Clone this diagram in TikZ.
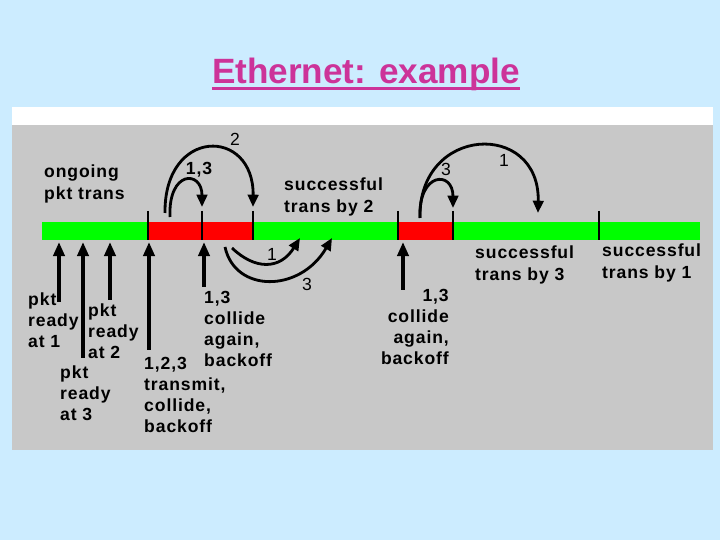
\documentclass[tikz,border=0pt]{standalone}
\usepackage{fontspec}
\setmainfont{Liberation Sans}
\newfontfamily\lblfont[LetterSpace=5]{Liberation Sans}
\usetikzlibrary{arrows.meta}
\definecolor{bgblue}{RGB}{204,236,255}
\definecolor{panel}{RGB}{200,200,200}
\definecolor{busgreen}{RGB}{0,255,0}
\definecolor{busred}{RGB}{255,0,0}
\definecolor{titlepink}{RGB}{204,51,153}
\tikzset{
  lbl/.style={anchor=west,align=left,inner sep=0pt,font=\lblfont\bfseries\fontsize{15}{18}\selectfont},
  num/.style={inner sep=0pt,font=\lblfont\fontsize{15}{17}\selectfont},
  tickmark/.style={line width=1.6pt},
  uparrow/.style={line width=3pt,-{Triangle[length=12pt,width=9.5pt]}},
  backarc/.style={line width=2.4pt,-{Triangle[length=10.5pt,width=9pt]}}
}
\begin{document}
\begin{tikzpicture}[x=0.03cm,y=-0.03cm]
\useasboundingbox (0,0) rectangle (720,540);
% 背景
\fill[bgblue] (0,0) rectangle (720,540);
\fill[white] (12,107) rectangle (713,125);
\fill[panel] (12,125) rectangle (713,450);
% 标题
\node[inner sep=0pt,anchor=base,text=titlepink,font=\bfseries\fontsize{30}{34}\selectfont] (title) at (366,84) {Ethernet: example};
\draw[titlepink,line width=2.5pt] ([yshift=-4pt]title.base west) -- ([yshift=-4pt]title.base east);
% 总线
\fill[busgreen] (42,222) rectangle (700,240);
\fill[busred] (149,222) rectangle (253,240);
\fill[busred] (398,222) rectangle (453,240);
\foreach \x in {148,202,253,398,453,599}
  \draw[tickmark] (\x,211) -- (\x,240);
% 上箭头
\foreach \x/\y/\name in {59/302/a,83/358/b,110/300/c,149/350/d,204/287/e,403/290/f} {
  \coordinate (\name tail) at (\x,\y);
  \coordinate (\name tip) at (\x,242);
  \draw[uparrow] (\name tail) -- (\name tip);
}
% 文字
\node[lbl] (ongoing) at (44,184) {ongoing\\pkt trans};
\node[lbl] (succ2) at (284,197) {successful\\trans by 2};
\node[lbl] (succ3) at (475,265) {successful\\trans by 3};
\node[lbl] (succ1) at (602,263) {successful\\trans by 1};
\node[lbl] (ready1) at (28,320) {pkt\\ready\\at 1};
\node[lbl] (ready2) at (88,331) {pkt\\ready\\at 2};
\node[lbl] (ready3) at (60,393) {pkt\\ready\\at 3};
\node[lbl] (first) at (144,395) {1,2,3\\transmit,\\collide,\\backoff};
\node[lbl] (again1) at (204,329) {1,3\\collide\\again,\\backoff};
\node[lbl,anchor=east,align=right] (again2) at (449,327) {1,3\\collide\\again,\\backoff};
% 退避弧线（上方）
\coordinate (s2) at (165,213); \coordinate (t2) at (253,207);
\draw[backarc] (s2) .. controls (164,127) and (254,127) .. (t2);
\node[num] (n2) at (235,139) {2};
\coordinate (s13) at (170,217); \coordinate (t13) at (202,207);
\draw[backarc] (s13) .. controls (168,170) and (202,170) .. (t13);
\node[num,font=\lblfont\bfseries\fontsize{15}{17}\selectfont] (n13) at (199,170) {1,3};
\coordinate (s3) at (420,218); \coordinate (t3) at (453,208);
\draw[backarc] (s3) .. controls (418,172) and (453,170) .. (t3);
\node[num] (n3) at (446,169) {3};
\coordinate (t1) at (538,213);
\draw[backarc] (s3) .. controls (418,125) and (540,120) .. (t1);
\node[num] (n1) at (504,160) {1};
% 退避弧线（下方）
\coordinate (b1s) at (232,248); \coordinate (b1t) at (300,238);
\draw[backarc] (b1s) .. controls (255,270) and (280,270) .. (b1t);
\node[num] (m1) at (272,254) {1};
\coordinate (b3s) at (225,247); \coordinate (b3t) at (332,238);
\draw[backarc] (b3s) .. controls (235,293) and (300,293) .. (b3t);
\node[num] (m3) at (307,284) {3};
\end{tikzpicture}
\end{document}
